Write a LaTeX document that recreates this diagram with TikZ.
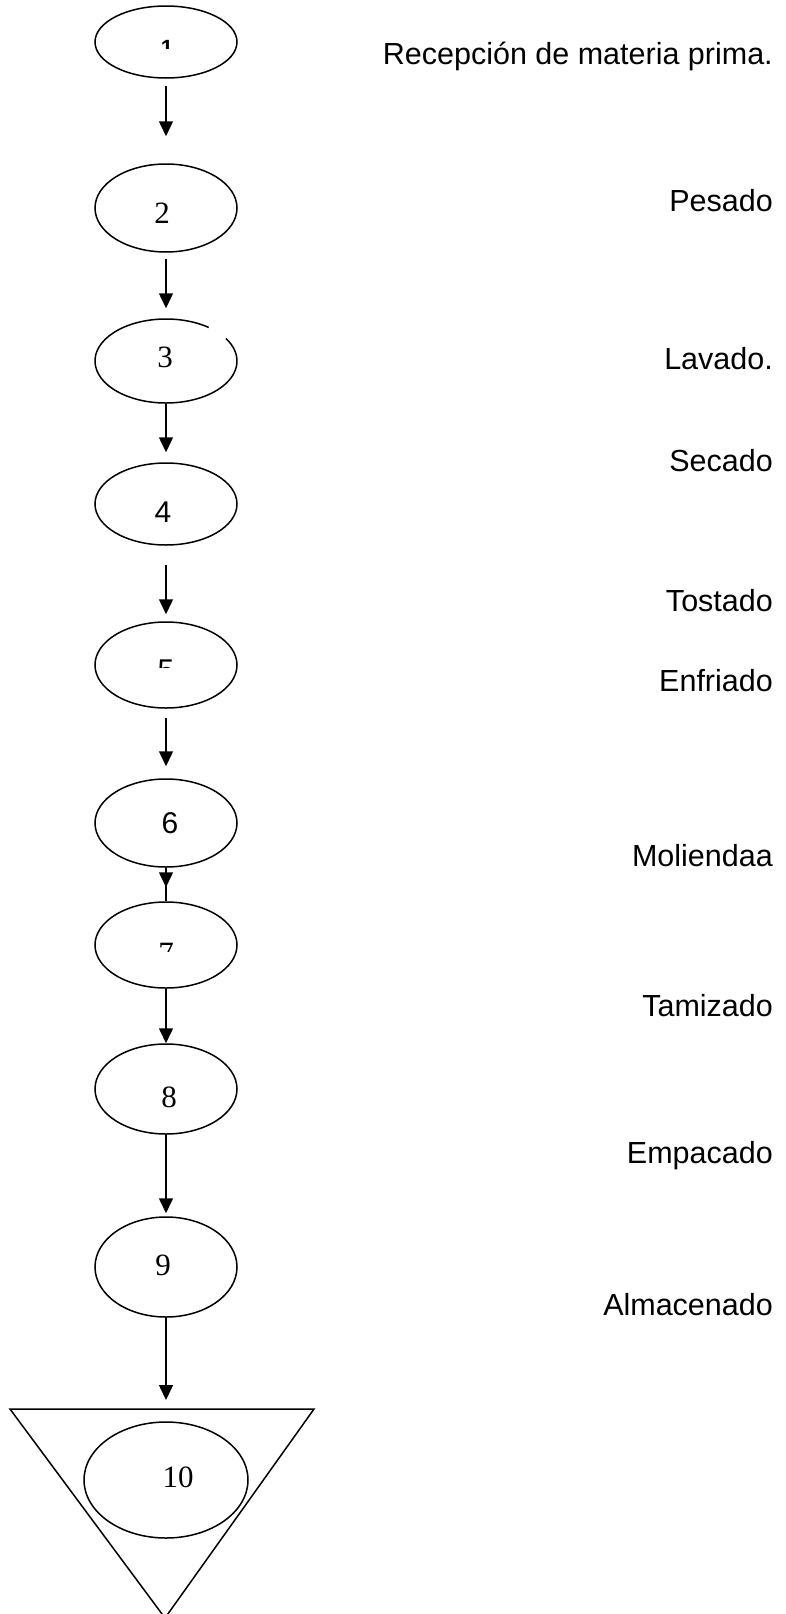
\documentclass[tikz,border=0pt]{standalone}
\usepackage{fontspec}
\setmainfont{Liberation Serif}
\newfontfamily\arialfont{Liberation Sans}
\usetikzlibrary{shapes.geometric,arrows.meta}

\begin{document}
\begin{tikzpicture}[x=1pt,y=-1pt,
  stage/.style={ellipse, draw, line width=1.5pt, minimum width=142pt,
    minimum height=#1, inner sep=0pt},
  flow/.style={line width=1.5pt, -{Triangle[length=15pt,width=14pt]}},
  plain/.style={line width=1.5pt},
  num/.style={inner sep=0pt, font=\fontsize{31}{35}\selectfont},
  snum/.style={inner sep=0pt, font=\arialfont\fontsize{30}{34}\selectfont},
  steplabel/.style={anchor=base east, inner sep=0pt,
    font=\arialfont\fontsize{30.5}{36}\selectfont}]
\useasboundingbox (0,0) rectangle (786,1614);

% process stages
\node[stage=72pt] (e1) at (166,42) {};
\node[stage=88pt] (e2) at (166,208) {};
\node[stage=84pt, draw=none] (e3) at (166,361) {};
\draw[line width=1.5pt] ([shift={(53:71pt and 42pt)}]e3.center)
  arc[start angle=53, end angle=392.5, x radius=71pt, y radius=42pt];
\node[stage=82pt] (e4) at (166,504) {};
\node[stage=86pt] (e5) at (166,665) {};
\node[stage=88pt] (e6) at (166,823) {};
\node[stage=86pt] (e7) at (166,945) {};
\node[stage=90pt] (e8) at (166,1089) {};
\node[stage=100pt] (e9) at (166,1267) {};

% storage triangle with the last stage inside
\coordinate (tl) at (10,1409);
\coordinate (tr) at (314,1409);
\coordinate (tb) at (165,1618);
\coordinate (ttop) at (166,1409);
\draw[line width=1.5pt] (tl) -- (tr) -- (tb) -- cycle;
\node[ellipse, draw, line width=1.5pt, minimum width=164pt,
  minimum height=116pt, inner sep=0pt] (e10) at (166,1480) {};

% stage numbers
\begin{scope}
  \clip (140,30) rectangle (195,48);
  \node[inner sep=0pt, anchor=north, font=\arialfont\bfseries\fontsize{22}{26}\selectfont] (n1) at (167,40) {1};
\end{scope}
\node[num] (n2) at (162,213) {2};
\node[num] (n3) at (165,357) {3};
\node[snum] (n4) at (163,512) {4};
\begin{scope}
  \clip (140,650) rectangle (195,667);
  \node[inner sep=0pt, anchor=north, font=\arialfont\fontsize{30}{34}\selectfont] (n5) at (166,660) {5};
\end{scope}
\node[snum] (n6) at (170,823) {6};
\begin{scope}
  \clip (140,930) rectangle (195,951);
  \node[inner sep=0pt, anchor=north, font=\fontsize{31}{35}\selectfont] (n7) at (166,943) {7};
\end{scope}
\node[num] (n8) at (169,1097) {8};
\node[num] (n9) at (163,1265) {9};
\node[num] (n10) at (178,1477) {10};

% connectors
\draw[flow, shorten <=7pt, shorten >=27pt] (e1) -- (e2);
\draw[flow, shorten <=6pt, shorten >=10pt] (e2) -- (e3);
\draw[flow, shorten >=10pt] (e3) -- (e4);
\draw[flow, shorten <=19pt, shorten >=7pt] (e4) -- (e5);
\draw[flow, shorten <=9pt, shorten >=12pt] (e5) -- (e6);
\draw[plain] (e6) -- (e7);
\draw[flow, shorten >=14pt] (e6) -- (e7);
\draw[flow] (e7) -- (e8);
\draw[flow, shorten >=3pt] (e8) -- (e9);
\draw[flow, shorten >=9pt] (e9) -- (ttop);

% step names
\node[steplabel] (t1) at (773,64) {Recepción de materia prima.};
\node[steplabel] (t2) at (773,211) {Pesado};
\node[steplabel] (t3) at (773,369) {Lavado.};
\node[steplabel] (t4) at (773,471) {Secado};
\node[steplabel] (t5) at (773,611) {Tostado};
\node[steplabel] (t6) at (773,691) {Enfriado};
\node[steplabel] (t7) at (773,866) {Moliendaa};
\node[steplabel] (t8) at (773,1016) {Tamizado};
\node[steplabel] (t9) at (773,1163) {Empacado};
\node[steplabel] (t10) at (773,1315) {Almacenado};
\end{tikzpicture}
\end{document}
